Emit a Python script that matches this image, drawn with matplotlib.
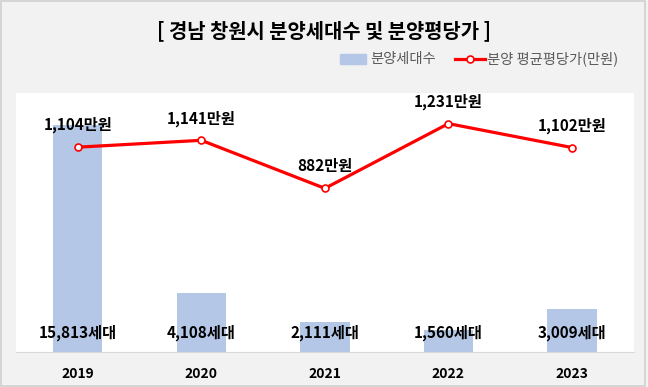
import matplotlib.pyplot as plt
from matplotlib.patches import Rectangle

plt.rcParams['font.family'] = ['Noto Sans CJK KR', 'DejaVu Sans']

years = ["2019", "2020", "2021", "2022", "2023"]
units = [15813, 4108, 2111, 1560, 3009]
price = [1104, 1141, 882, 1231, 1102]

fig = plt.figure(figsize=(6.48, 3.87), dpi=100)
fig.patch.set_facecolor("#f2f2f2")
fig.patches.append(Rectangle((0.002, 0.003), 0.994, 0.994, transform=fig.transFigure,
                             fill=False, edgecolor="#d0d0d0", lw=1.2))

ax = fig.add_axes([0.0247, 0.0904, 0.9533, 0.6693])
ax.set_facecolor("white")
x = list(range(len(years)))
ax.bar(x, units, width=0.4, color="#b4c7e7", zorder=2)
ax.set_xlim(-0.5, len(years) - 0.5)
ax.set_ylim(0, 18036)
ax.set_yticks([])
for s in ["top", "left", "right"]:
    ax.spines[s].set_visible(False)
ax.spines["bottom"].set_color("#d9d9d9")
ax.set_xticks(x)
ax.set_xticklabels(years, fontsize=10, fontweight="bold")
ax.tick_params(axis="x", length=0, pad=11)

for xi, u in zip(x, units):
    ax.annotate(f"{u:,}세대", xy=(xi, 0), xytext=(0, 19), textcoords="offset pixels",
                ha="center", va="center", fontsize=11, fontweight="bold", zorder=5)

ax2 = ax.twinx()
ax2.plot(x, price, color="#ff0000", lw=2.3, marker="o", ms=5,
         mfc="white", mec="#ff0000", mew=1.2, zorder=4)
ax2.set_ylim(0, 1396)
ax2.set_yticks([])
for s in ["top", "left", "right", "bottom"]:
    ax2.spines[s].set_visible(False)
for xi, p in zip(x, price):
    ax2.annotate(f"{p:,}만원", xy=(xi, p), xytext=(0, 22), textcoords="offset pixels",
                 ha="center", va="center", fontsize=11, fontweight="bold")

fig.text(0.5, 0.92, "[ 경남 창원시 분양세대수 및 분양평당가 ]", ha="center", va="center",
         fontsize=14.3, fontweight="bold")

# legend
leg_y = 1 - 59 / 387
fig.patches.append(Rectangle((340 / 648, leg_y - 0.012), 26 / 648, 0.024,
                             transform=fig.transFigure, color="#b4c7e7"))
fig.text(370 / 648, leg_y, "분양세대수", ha="left", va="center", fontsize=10.3, color="#595959")
fig.lines.append(plt.Line2D([455 / 648, 485 / 648], [leg_y, leg_y], transform=fig.transFigure,
                            color="#ff0000", lw=2.3))
fig.lines.append(plt.Line2D([470 / 648], [leg_y], transform=fig.transFigure, marker="o",
                            ms=5, mfc="white", mec="#ff0000", mew=1.2, color="#ff0000"))
fig.text(487 / 648, leg_y, "분양 평균평당가(만원)", ha="left", va="center", fontsize=10.3,
         color="#595959")

plt.savefig("out.png", dpi=100, facecolor=fig.get_facecolor())
